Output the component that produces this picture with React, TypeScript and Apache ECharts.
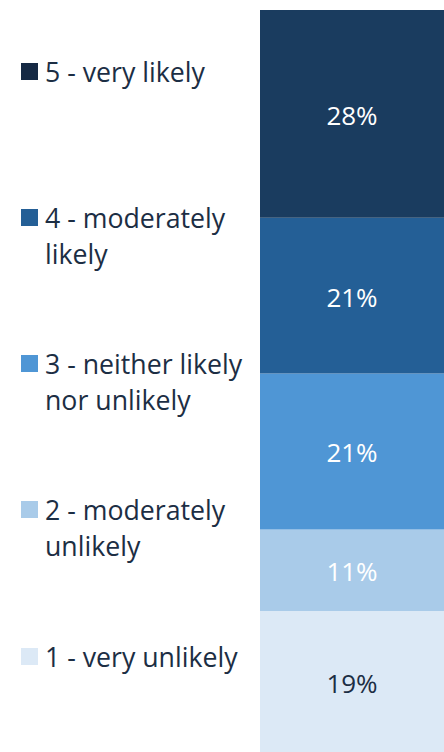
import React, { useEffect, useRef } from "react";
import * as echarts from "echarts";

const categories = ["5 - very likely", "4 - moderately\nlikely", "3 - neither likely\nnor unlikely", "2 - moderately\nunlikely", "1 - very unlikely"];
const values = [28, 21, 21, 11, 19];
const barColors = ["#1a3c5f", "#245f96", "#4f96d5", "#a9cbe9", "#dce9f6"];
const legendColors = ["#152944", "#245f96", "#4f96d5", "#a9cbe9", "#dce9f6"];
const labelColors = ["#ffffff", "#ffffff", "#ffffff", "#ffffff", "#1c2e44"];

export default function App() {
  const ref = useRef<HTMLDivElement>(null);
  useEffect(() => {
    document.body.style.margin = "0";
    if (!ref.current) return;
    const chart = echarts.init(ref.current, undefined, { renderer: "svg" });
    const font = "Open Sans";
    const order = [4, 3, 2, 1, 0];
    const series = order.map((i) => ({
      name: categories[i],
      type: "bar",
      stack: "total",
      barWidth: "100%",
      data: [values[i]],
      itemStyle: { color: barColors[i] },
      label: {
        show: true,
        position: "inside",
        formatter: "{c}%",
        color: labelColors[i],
        fontFamily: font,
        fontSize: 26,
        offset: [0, 1],
      },
    }));
    const legendTops = [53, 199, 345, 491, 638];
    const graphics: any[] = [];
    categories.forEach((name, i) => {
      graphics.push({
        type: "rect",
        left: 21,
        top: legendTops[i] + 10,
        shape: { width: 17, height: 17 },
        style: { fill: legendColors[i] },
      });
      graphics.push({
        type: "text",
        left: 45,
        top: legendTops[i],
        style: {
          text: name,
          fill: "#1c2e44",
          font: `26.7px "${font}"`,
          lineHeight: 36,
        },
      });
    });
    chart.setOption({
      animation: false,
      grid: { left: 260, top: 10, width: 194, height: 746 },
      xAxis: { type: "category", data: ["all"], show: false },
      yAxis: { type: "value", min: 0, max: 100, show: false },
      series,
      graphic: graphics,
    });
    return () => chart.dispose();
  }, []);
  return <div ref={ref} style={{ width: 444, height: 752 }} />;
}
